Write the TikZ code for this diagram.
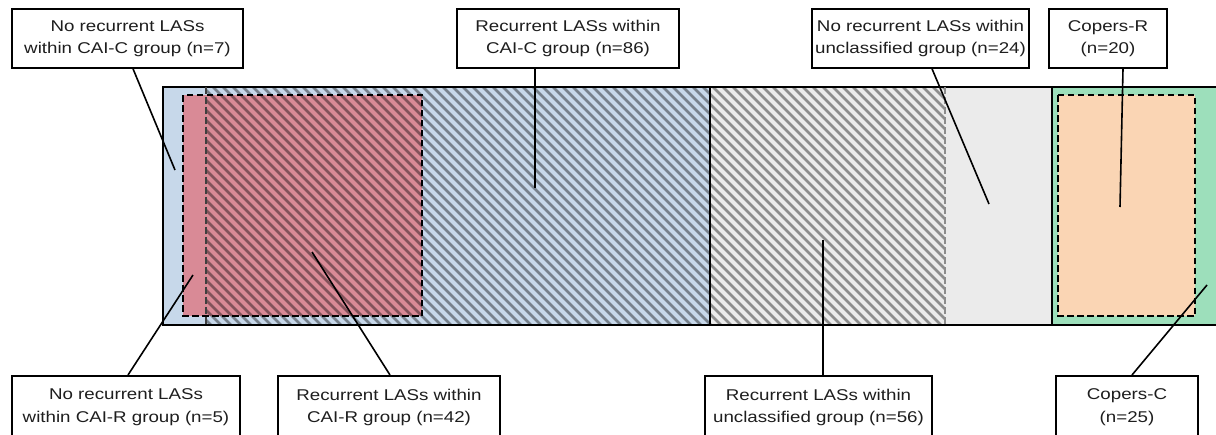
\documentclass[tikz,border=0pt]{standalone}
\usepackage{fontspec}
\setmainfont[FakeStretch=1.2]{Liberation Sans}
\definecolor{blueC}{HTML}{C7D8EA}
\definecolor{grayC}{HTML}{EBEBEB}
\definecolor{greenC}{HTML}{9DDFBB}
\definecolor{redC}{HTML}{D98A96}
\definecolor{orangeC}{HTML}{FAD5B4}
\definecolor{txt}{HTML}{1E1E1E}
\begin{document}
\begin{tikzpicture}[x=1pt,y=-1pt,
  lbl/.style={draw=black, line width=1.5pt, fill=white, align=center, inner sep=0pt,
    font=\fontsize{15.6}{22.5}\selectfont, text=txt, minimum height=59pt},
  lblb/.style={lbl, anchor=north, minimum height=63pt},
  conn/.style={line width=1.6pt, black},
  hatchline/.style={line width=2.8pt, black, opacity=0.4},
  dashbox/.style={dash pattern=on 6.5pt off 3.5pt, line width=1.7pt}]
\useasboundingbox (0,0) rectangle (1216,434);
\clip (0,0) rectangle (1216,434);

% region fills
\fill[blueC] (163,87) rectangle (710,325);
\fill[grayC] (710,87) rectangle (1052,325);
\fill[greenC] (1052,87) rectangle (1230,325);
\fill[redC] (183,95) rectangle (422,316);
\fill[orangeC] (1058,95) rectangle (1195,316);

% hatching
\begin{scope}
  \clip (206,87) rectangle (710,325);
  \foreach \k in {-250,-240,...,510} \draw[hatchline] (206+\k,80) -- ++(260,260);
\end{scope}
\begin{scope}
  \clip (710,87) rectangle (945,325);
  \foreach \k in {-250,-240,...,250} \draw[hatchline] (706+\k,80) -- ++(260,260);
\end{scope}

% frame and dividers
\draw[line width=2pt] (163,87) rectangle (1230,325);
\draw[line width=2pt] (710,87) -- (710,325);
\draw[line width=2pt] (1052,87) -- (1052,325);

% dashed boxes
\draw[dashbox] (183,95) rectangle (422,316);
\draw[dashbox, black!75] (206,87) -- (206,325);
\draw[dashbox, black!45] (945,87) -- (945,325);
\draw[dashbox] (1058,95) rectangle (1195,316);

% connector end points
\coordinate (pA) at (175,170);
\coordinate (pB) at (535,188);
\coordinate (pC) at (989,204);
\coordinate (pD) at (1120,207);
\coordinate (pE) at (193,275);
\coordinate (pF) at (312,252);
\coordinate (pG) at (823,240);
\coordinate (pH) at (1207,285);

% labels
\node[lbl, minimum width=231pt] (A) at (127.5,38.5) {No recurrent LASs\\within CAI-C group (n=7)};
\node[lbl, minimum width=222pt] (B) at (568,38.5) {Recurrent LASs within\\CAI-C group (n=86)};
\node[lbl, minimum width=217pt] (C) at (920.5,38.5) {No recurrent LASs within\\unclassified group (n=24)};
\node[lbl, minimum width=118pt] (D) at (1108,38.5) {Copers-R\\(n=20)};
\node[lblb, minimum width=228pt] (E) at (126,375) {No recurrent LASs\\within CAI-R group (n=5)};
\node[lblb, minimum width=222pt] (F) at (389,375) {Recurrent LASs within\\CAI-R group (n=42)};
\node[lblb, minimum width=227pt] (G) at (818.5,375) {Recurrent LASs within\\unclassified group (n=56)};
\node[lblb, minimum width=142pt] (H) at (1127,375) {Copers-C\\(n=25)};

% connectors
\draw[conn] ([xshift=5.5pt]A.south) -- (pA);
\draw[conn] ([xshift=-33pt]B.south) -- (pB);
\draw[conn] ([xshift=11.5pt]C.south) -- (pC);
\draw[conn] ([xshift=15pt]D.south) -- (pD);
\draw[conn] ([xshift=2pt]E.north) -- (pE);
\draw[conn] ([xshift=1pt]F.north) -- (pF);
\draw[conn] ([xshift=4.5pt]G.north) -- (pG);
\draw[conn] ([xshift=5pt]H.north) -- (pH);
\end{tikzpicture}
\end{document}
